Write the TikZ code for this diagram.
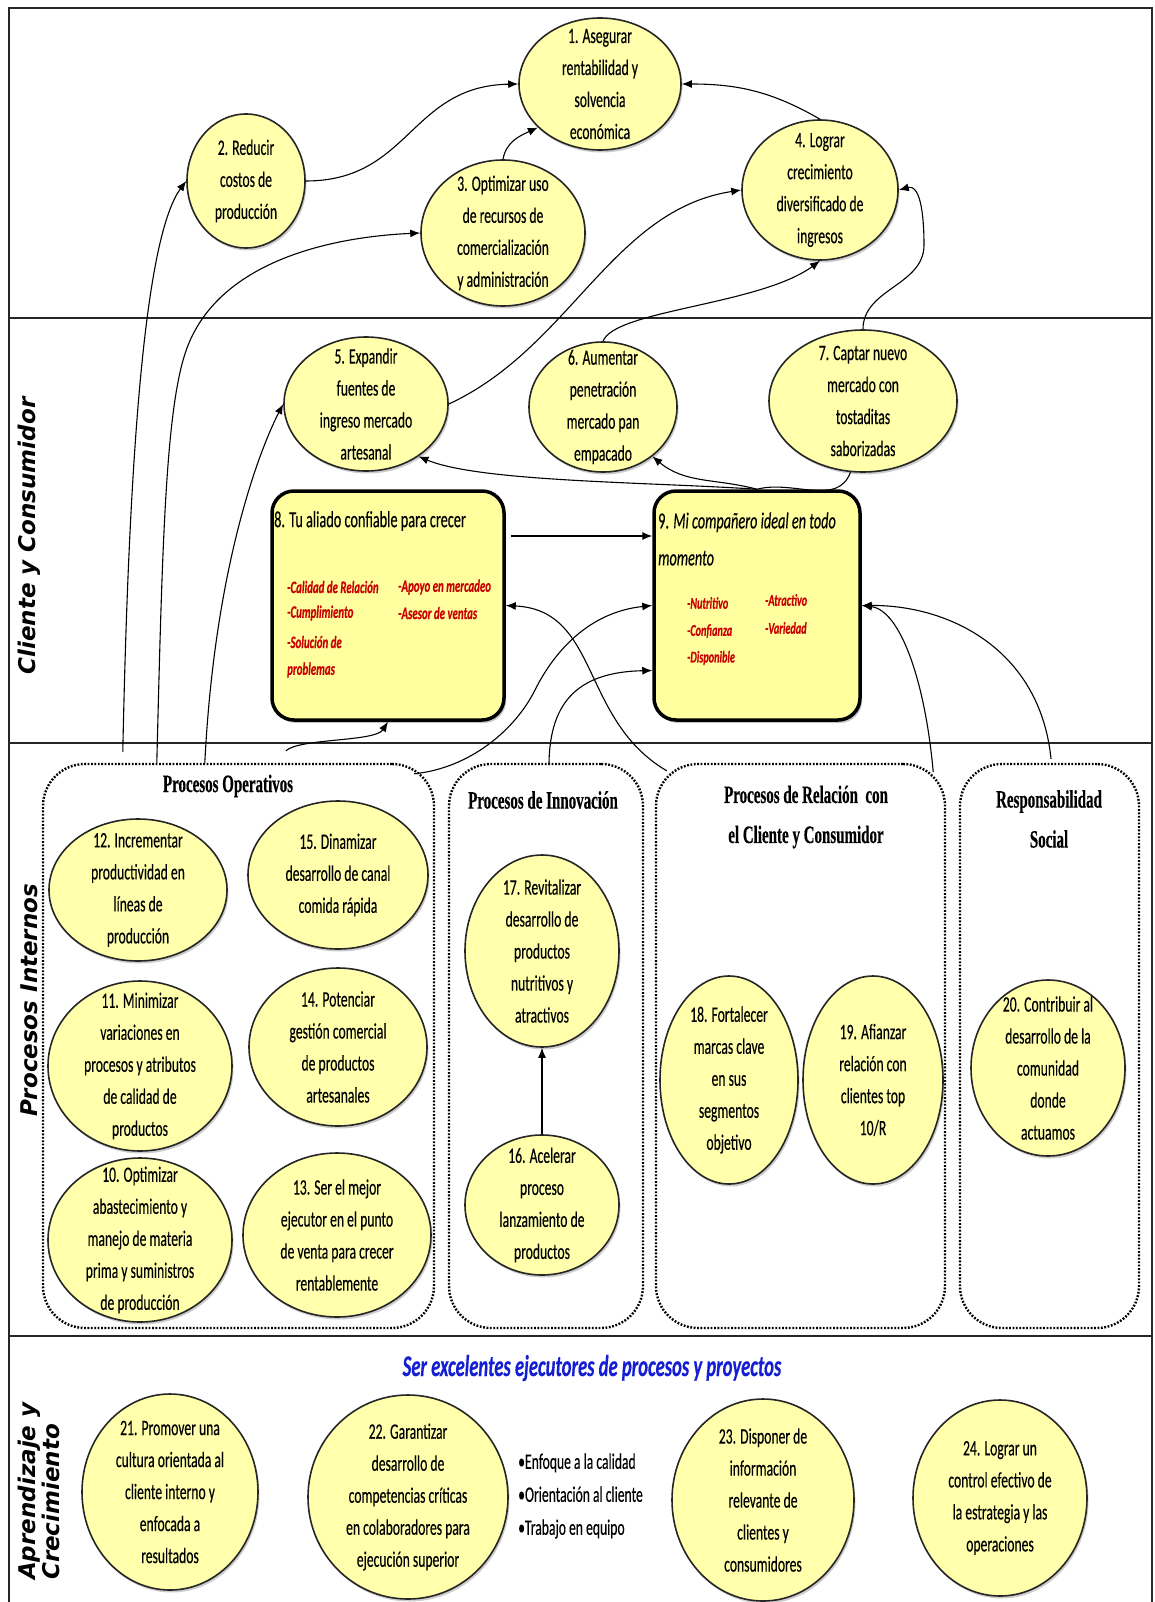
\documentclass[tikz,border=0pt]{standalone}
\usepackage{fontspec}
\setmainfont{Carlito}
\newfontfamily\objfont[FakeStretch=0.62,FakeBold=0.3]{Carlito}
\newfontfamily\headfont[FakeStretch=0.6,FakeBold=0.4]{Liberation Serif}
\newfontfamily\sidefont{DejaVu Sans}
\usetikzlibrary{shapes.geometric,shadows,arrows.meta}

\definecolor{objin}{RGB}{255,255,172}
\definecolor{objmid}{RGB}{246,246,140}
\definecolor{objout}{RGB}{185,185,70}
\definecolor{boxfill}{RGB}{255,255,160}
\definecolor{itemred}{RGB}{200,0,0}
\definecolor{titleblue}{RGB}{20,30,210}

% pale bubble with a darker rim
\pgfdeclareradialshading{bubble}{\pgfpoint{0bp}{0bp}}{%
  color(0bp)=(objin); color(32bp)=(objin); color(43bp)=(objmid); color(50bp)=(objout)}

% objective bubble: name, x, y (downwards), half width, half height, text
\newcommand\objnode[6]{%
  \node[obj, minimum width={2*#4pt}, minimum height={2*#5pt}] (#1) at (#2,-#3) {};
  \node[objtext] at (#1) {#6};}

\begin{document}
\begin{tikzpicture}[x=1pt,y=1pt,
  obj/.style={ellipse, draw=black!85, line width=1.6pt, shade, shading=bubble,
    drop shadow={shadow xshift=1.5pt,shadow yshift=-2.5pt,opacity=0.4}, inner sep=0pt},
  objtext/.style={font=\objfont\fontsize{22}{32}\selectfont, align=center, inner sep=0pt},
  goalbox/.style={rectangle, rounded corners=22pt, draw=black, line width=3.5pt, fill=boxfill,
    drop shadow={shadow xshift=2pt,shadow yshift=-3pt,opacity=0.45}},
  boxtitle/.style={font=\objfont\fontsize{23}{37}\selectfont, align=left, anchor=west, inner sep=0pt},
  item/.style={font=\objfont\bfseries\itshape\fontsize{17.5}{20}\selectfont, text=itemred, anchor=west, inner sep=0pt},
  smallitem/.style={item, font=\objfont\bfseries\itshape\fontsize{16.5}{20}\selectfont},
  grp/.style={rectangle, rounded corners=42pt, draw=black, line width=2.4pt, dash pattern=on 1.8pt off 1.6pt},
  grphead/.style={font=\headfont\bfseries\fontsize{25}{40}\selectfont, align=center, inner sep=0pt},
  side/.style={font=\sidefont\bfseries\itshape\fontsize{23}{20}\selectfont, rotate=90, inner sep=0pt, align=left},
  conn/.style={line width=1.1pt, draw=black},
  arr/.style={conn, -{Latex[length=10pt,width=8pt]}},
  frame/.style={line width=2pt, draw=black!85}
]
\useasboundingbox (0,0) rectangle (1154,-1602);
\fill[white] (0,0) rectangle (1154,-1602);

% frame and perspective bands
\draw[frame] (9,-1602) -- (9,-8) -- (1152,-8) -- (1152,-1602);
\draw[frame] (9,-318) -- (1152,-318);
\draw[frame] (9,-743) -- (1152,-743);
\draw[frame] (9,-1336) -- (1152,-1336);

% band titles
\node[side] (lcli) at (29,-536) {Cliente y Consumidor};
\node[side] (lint) at (29,-1000) {Procesos Internos};
\node[side, anchor=west] (lapr) at (39,-1580) {Aprendizaje y\\Crecimiento};

% process groups
\node[grp, minimum width=391pt, minimum height=564pt] (po) at (238.5,-1046) {};
\node[grp, minimum width=194pt, minimum height=564pt] (inn) at (546,-1046) {};
\node[grp, minimum width=289pt, minimum height=564pt] (rel) at (800.5,-1046) {};
\node[grp, minimum width=179pt, minimum height=564pt] (rsp) at (1049.5,-1046) {};
\node[grphead] (hpo) at (228,-786) {Procesos Operativos};
\node[grphead] (hinn) at (543,-800) {Procesos de Innovación};
\node[grphead] (hrel) at (806,-817) {Procesos de Relación\ \ con\\el Cliente y Consumidor};
\node[grphead] (hrsp) at (1049,-819) {Responsabilidad\\Social};

% financial objectives
\objnode{n1}{600}{84}{81}{66}{1. Asegurar\\rentabilidad y\\solvencia\\económica}
\objnode{n2}{246}{181}{59}{67}{2. Reducir\\costos de\\producción}
\objnode{n3}{503}{233}{82}{73}{3. Optimizar uso\\de recursos de\\comercialización\\y administración}
\objnode{n4}{820}{190}{78}{70}{4. Lograr\\crecimiento\\diversificado de\\ingresos}

% customer objectives
\objnode{n5}{366}{404}{82}{67}{5. Expandir\\fuentes de\\ingreso mercado\\artesanal}
\objnode{n6}{603}{407}{74}{65}{6. Aumentar\\penetración\\mercado pan\\empacado}
\objnode{n7}{863}{401}{94}{71}{7. Captar nuevo\\mercado con\\tostaditas\\saborizadas}

% value propositions
\node[goalbox, minimum width=232pt, minimum height=229pt] (n8) at (388,-605.5) {};
\node[goalbox, minimum width=206pt, minimum height=229pt] (n9) at (757,-605.5) {};
\node[boxtitle] (t8) at (274,-521) {8. Tu aliado confiable para crecer};
\node[boxtitle] (t9) at (658,-539) {9. \textit{Mi compañero ideal en todo}\\\textit{momento}};
\node[item] (i8a) at (287,-587) {-Calidad de Relación};
\node[item] (i8b) at (287,-613) {-Cumplimiento};
\node[item] (i8c) at (287,-642) {-Solución de};
\node[item] (i8d) at (287,-670) {problemas};
\node[item] (i8e) at (398,-587) {-Apoyo en mercadeo};
\node[item] (i8f) at (398,-613) {-Asesor de ventas};
\node[smallitem] (i9a) at (687,-603) {-Nutritivo};
\node[smallitem] (i9b) at (687,-631) {-Confianza};
\node[smallitem] (i9c) at (687,-658) {-Disponible};
\node[smallitem] (i9d) at (765,-600) {-Atractivo};
\node[smallitem] (i9e) at (765,-628) {-Variedad};

% internal process objectives
\objnode{n12}{138}{890}{89}{71}{12. Incrementar\\productividad en\\líneas de\\producción}
\objnode{n15}{338}{875}{90}{74}{15. Dinamizar\\desarrollo de canal\\comida rápida}
\objnode{n11}{140}{1066}{92}{85}{11. Minimizar\\variaciones en\\procesos y atributos\\de calidad de\\productos}
\objnode{n14}{338}{1047}{89}{79}{14. Potenciar\\gestión comercial\\de productos\\artesanales}
\objnode{n10}{140}{1240}{92}{82}{10. Optimizar\\abastecimiento y\\manejo de materia\\prima y suministros\\de producción}
\objnode{n13}{337}{1235}{94}{82}{13. Ser el mejor\\ejecutor en el punto\\de venta para crecer\\rentablemente}
\objnode{n17}{542}{951}{77}{96}{17. Revitalizar\\desarrollo de\\productos\\nutritivos y\\atractivos}
\objnode{n16}{542}{1205}{77}{70}{16. Acelerar\\proceso\\lanzamiento de\\productos}
\objnode{n18}{729}{1080}{69}{104}{18. Fortalecer\\marcas clave\\en sus\\segmentos\\objetivo}
\objnode{n19}{873}{1080}{70}{104}{19. Afianzar\\relación con\\clientes top\\10/R}
\objnode{n20}{1048}{1068}{77}{88}{20. Contribuir al\\desarrollo de la\\comunidad\\donde\\actuamos}

% learning and growth
\node[font=\objfont\bfseries\itshape\fontsize{30}{34}\selectfont, text=titleblue, inner sep=0pt] (lgt) at (592,-1368) {Ser excelentes ejecutores de procesos y proyectos};
\objnode{n21}{170}{1492}{88}{98}{21. Promover una\\cultura orientada al\\cliente interno y\\enfocada a\\resultados}
\objnode{n22}{408}{1497}{100}{102}{22. Garantizar\\desarrollo de\\competencias críticas\\en colaboradores para\\ejecución superior}
\objnode{n23}{763}{1500}{91}{101}{23. Disponer de\\información\\relevante de\\clientes y\\consumidores}
\objnode{n24}{1000}{1498}{87}{98}{24. Lograr un\\control efectivo de\\la estrategia y las\\operaciones}
\node[font=\objfont\fontsize{22}{33}\selectfont, align=left, anchor=west, inner sep=0pt] (bul) at (518,-1496)
  {•Enfoque a la calidad\\•Orientación al cliente\\•Trabajo en equipo};

% cause-effect links: financial
\draw[arr] (n2.east) .. controls (410,-181) and (410,-86) .. (n1.west);
\draw[arr] (n3.north) to[out=80,in=205] (n1.215);
\draw[arr] (n4.north) to[out=150,in=0] (n1.east);

% customer to financial
\draw[arr] (n5.east) .. controls (570,-348) and (612,-210) .. (n4.west);
\draw[arr] (n6.north) .. controls (615,-310) and (760,-305) .. (n4.south);
\draw[arr] (n7.north) to[out=90,in=-90] (924,-245) to[out=90,in=15] (n4.east);

% value propositions to customer objectives
\draw[arr] (n9.north) to[out=165,in=-40] (n6.-45);
\draw[arr] (n9.north) .. controls (650,-482) and (480,-482) .. (n5.-45);
\draw[conn] (n9.north) to[out=15,in=-110] (n7.-100);
\draw[arr] ([xshift=5pt,yshift=69.5pt]n8.east) -- ([yshift=69.5pt]n9.west);

% internal processes upwards
\draw[arr] ([xshift=81pt,yshift=11pt]po.north west) .. controls (130,-400) and (150,-230) .. (n2.west);
\draw[arr] ([xshift=115pt]po.north west) .. controls (162,-560) and (165,-420) .. (184,-357)
  .. controls (212,-262) and (330,-237) .. (n3.west);
\draw[arr] ([xshift=163pt]po.north west) .. controls (215,-560) and (262,-445) .. (n5.west);
\draw[arr] ([xshift=244pt,yshift=12pt]po.north west) .. controls (300,-738) and (375,-742) .. (n8.south);
\draw[arr] ([xshift=-21pt,yshift=-11pt]po.north east) .. controls (470,-768) and (515,-730) .. (535,-690)
  .. controls (555,-650) and (590,-612) .. (n9.west);
\draw[arr] ([xshift=3pt]inn.north) .. controls (550,-700) and (580,-672) .. ([yshift=-65pt]n9.west);
\draw[arr] ([xshift=12pt,yshift=-8pt]rel.north west) .. controls (580,-720) and (600,-610) .. (n8.east);
\draw[arr] ([xshift=-13pt,yshift=-9pt]rel.north east) .. controls (925,-680) and (900,-610) .. (n9.east);
\draw[arr] ([xshift=1.5pt,yshift=4pt]rsp.north) .. controls (1040,-650) and (950,-605) .. (n9.east);
\draw[arr] (n16.north) -- (n17.south);
\end{tikzpicture}
\end{document}
